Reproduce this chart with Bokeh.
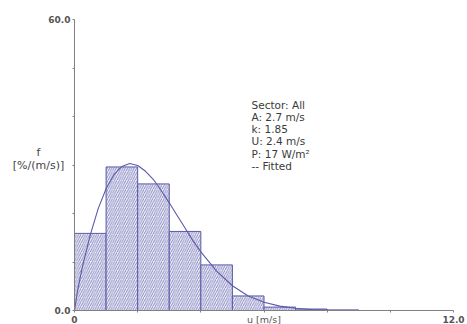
from bokeh.plotting import figure
from bokeh.models import Range1d, FixedTicker, Label, ColumnDataSource
from bokeh.embed import file_html
from bokeh.resources import INLINE

# ---- data ----
bin_left = [0, 1, 2, 3, 4, 5, 6, 7, 8]
bin_right = [1, 2, 3, 4, 5, 6, 7, 8, 9]
freq = [15.9, 29.6, 26.1, 16.3, 9.4, 3.0, 0.7, 0.3, 0.1]

curve_u = [0, 0.1, 0.25, 0.5, 0.75, 1.0, 1.25, 1.5, 1.75, 2.0, 2.25, 2.5, 2.75, 3.0,
           3.25, 3.5, 3.75, 4.0, 4.5, 5.0, 5.5, 6.0, 6.5, 7.0, 7.5, 8.0, 9.0, 10.0]
curve_f = [0, 4.2, 9.0, 15.6, 21.0, 25.1, 28.0, 29.7, 30.3, 29.9, 28.7, 27.0, 24.7, 22.2,
           19.6, 17.0, 14.4, 12.1, 8.1, 5.1, 3.0, 1.7, 0.9, 0.45, 0.22, 0.1, 0.02, 0.0]

x_min, x_max = 0, 12
y_min, y_max = 0, 60
x_ticks = [0, 2, 4, 6, 8, 10, 12]
x_tick_text = {0: "0", 12: "12.0"}
x_title = "u [m/s]"
y_ticks = [0, 10, 20, 30, 40, 50, 60]
y_tick_text = {0: "0.0", 60: "60.0"}
y_title = ["f", "[%/(m/s)]"]
info_lines = ["Sector: All", "A: 2.7 m/s", "k: 1.85", "U: 2.4 m/s", "P: 17 W/m\u00b2", "-- Fitted"]

BLUE = "#5a5aaa"
GREY = "#555555"
FONT = "DejaVu Sans"

W, H = 467, 324
# plot frame covers the whole canvas; the axes sit at fixed data locations
px_per_x = (453 - 74) / (x_max - x_min)
px_per_y = (310 - 19) / (y_max - y_min)
xr = Range1d(x_min - 74 / px_per_x, x_max + (W - 453) / px_per_x)
yr = Range1d(y_min - (H - 310) / px_per_y, y_max + 19 / px_per_y)

p = figure(width=W, height=H, x_range=xr, y_range=yr,
           output_backend="svg", toolbar_location=None,
           min_border_left=0, min_border_right=0, min_border_top=0, min_border_bottom=0)
p.outline_line_color = None
p.grid.visible = False
p.background_fill_color = "white"
p.border_fill_color = "white"

src = ColumnDataSource(dict(left=bin_left, right=bin_right, top=freq, bottom=[0] * len(freq)))
p.quad(left="left", right="right", top="top", bottom="bottom", source=src,
       fill_color="#eeeef7", line_color=BLUE, line_width=1,
       hatch_pattern="/", hatch_color=BLUE, hatch_scale=4.5, hatch_weight=0.8, hatch_alpha=0.85)

p.line(curve_u, curve_f, line_color=BLUE, line_width=1.1)

# axes
xa = p.xaxis[0]
xa.fixed_location = y_min
xa.bounds = (x_min, x_max)
xa.ticker = FixedTicker(ticks=x_ticks)
xa.major_label_overrides = {t: x_tick_text.get(t, "") for t in x_ticks}
xa.major_label_text_font = FONT
xa.major_label_text_font_style = "bold"
xa.major_label_text_font_size = "9px"
xa.major_label_text_color = GREY
xa.major_label_standoff = 3
xa.minor_tick_line_color = None
xa.major_tick_in = 0
xa.major_tick_out = 2
xa.axis_line_color = "#808080"
xa.major_tick_line_color = "#808080"

ya = p.yaxis[0]
ya.fixed_location = x_min
ya.bounds = (y_min, y_max)
ya.ticker = FixedTicker(ticks=y_ticks)
ya.major_label_overrides = {t: y_tick_text.get(t, "") for t in y_ticks}
ya.minor_tick_line_color = None
ya.major_tick_in = 0
ya.major_tick_out = 2
ya.axis_line_color = "#808080"
ya.major_tick_line_color = "#808080"
ya.major_label_text_font = FONT
ya.major_label_text_font_style = "bold"
ya.major_label_text_font_size = "9px"
ya.major_label_text_color = GREY
ya.major_label_standoff = 2

# x title on the tick-label row
p.add_layout(Label(x=(x_min + x_max) / 2, y=y_min, y_offset=-3, text=x_title, text_align="center",
                   text_baseline="top", text_font=FONT, text_font_size="9.5px", text_color=GREY))

# y title (two lines) left of the axis
for i, s in enumerate(y_title):
    p.add_layout(Label(x=x_min, x_offset=-36, y=y_min, y_offset=158 - i * 13, text=s,
                       text_align="center", text_baseline="middle", text_font=FONT,
                       text_font_size="11px", text_color="#444444"))

# info block
for i, s in enumerate(info_lines):
    p.add_layout(Label(x=x_min, x_offset=177, y=y_min, y_offset=212 - i * 12.3, text=s,
                       text_align="left", text_baseline="top", text_font=FONT,
                       text_font_size="10.5px", text_color="#3a3a3a"))

open("out.html", "w").write(file_html(p, INLINE))
